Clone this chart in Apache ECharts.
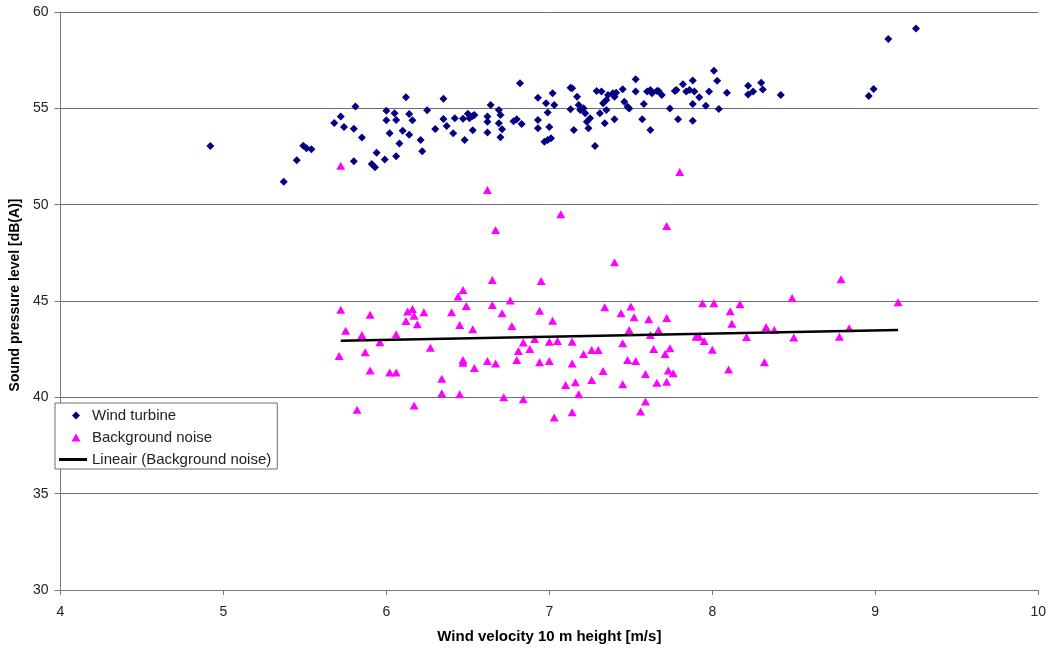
<!DOCTYPE html>
<html>
<head>
<meta charset="utf-8">
<script src="https://cdn.jsdelivr.net/npm/echarts@6/dist/echarts.min.js"></script>
<style>
html,body{margin:0;padding:0;background:#fff;}
#chart{width:1049px;height:649px;}
</style>
</head>
<body>
<div id="chart"></div>
<script>
// Wind turbine: x = wind velocity [m/s], y = sound pressure level [dB(A)]
var turbineX = [4.92,5.37,5.45,5.49,5.51,5.54,5.68,5.72,5.74,5.80,5.80,5.81,5.85,5.91,5.93,5.94,5.99,6.00,6.00,6.02,
6.05,6.06,6.08,6.06,6.10,6.12,6.14,6.14,6.16,6.21,6.22,6.25,6.30,6.35,6.35,6.37,6.41,6.42,6.47,6.48,
6.50,6.51,6.53,6.53,6.54,6.62,6.64,6.62,6.62,6.69,6.70,6.69,6.71,6.70,6.78,6.80,6.83,6.82,6.93,6.93,
6.93,6.98,6.99,7.02,7.03,7.00,6.97,6.99,7.01,7.13,7.14,7.17,7.13,7.15,7.18,7.19,7.21,7.22,7.23,7.24,
7.25,7.28,7.29,7.31,7.32,7.33,7.34,7.35,7.35,7.36,7.39,7.40,7.40,7.41,7.45,7.46,7.48,7.49,7.53,7.53,
7.57,7.58,7.62,7.60,7.62,7.63,7.66,7.67,7.69,7.74,7.77,7.78,7.79,7.82,7.84,7.86,7.88,7.88,7.88,7.89,
7.92,7.96,7.98,8.01,8.03,8.04,8.09,8.22,8.22,8.25,8.30,8.31,8.42,8.96,8.99,9.08,9.25];
var turbineY = [53.05,51.19,52.30,53.06,52.93,52.88,54.24,54.57,54.03,52.25,53.94,55.09,53.48,52.11,51.94,52.70,52.34,54.88,54.38,53.71,
54.74,54.40,53.17,52.51,53.84,55.57,54.71,53.63,54.38,53.36,52.77,54.90,53.93,55.50,54.45,54.08,53.71,54.48,54.46,53.36,
54.72,54.48,53.86,54.60,54.65,54.57,55.17,54.31,53.74,54.91,54.65,54.22,53.91,53.50,54.33,54.43,54.19,56.30,55.55,54.40,
53.96,55.26,54.79,55.78,55.17,54.03,53.27,53.36,53.45,56.07,56.04,55.60,54.95,53.88,55.17,54.91,55.00,54.74,54.31,53.96,
54.48,53.05,55.90,54.74,55.87,55.26,54.22,54.91,55.43,55.69,55.78,55.60,54.43,55.81,55.99,55.34,55.08,54.99,56.51,55.87,
54.43,55.23,53.88,55.87,55.95,55.78,55.90,55.90,55.69,54.99,55.90,55.95,54.43,56.25,55.87,55.95,56.44,55.23,54.36,55.87,
55.57,55.14,55.87,56.95,56.43,54.97,55.81,56.17,55.72,55.87,56.33,55.98,55.69,55.64,56.00,58.60,59.15];

// Background noise
var noiseX = [5.72,6.62,7.07,6.67,6.65,6.95,6.47,6.44,5.72,5.90,6.13,6.16,6.17,6.23,6.12,6.19,6.40,6.49,6.65,6.76,
6.71,6.94,7.02,6.45,6.53,6.77,5.75,5.85,6.06,5.96,5.71,5.87,6.27,6.84,6.88,6.91,7.00,7.05,7.14,6.81,
6.47,6.47,6.62,6.67,6.80,6.94,7.00,7.14,5.90,6.02,6.06,6.54,6.34,6.34,6.45,6.72,6.84,7.10,7.16,7.18,
5.82,6.17,7.03,7.14,7.80,7.72,7.40,7.34,7.44,7.50,7.52,7.61,7.72,7.49,7.62,7.67,7.45,7.64,7.71,7.74,
7.21,7.26,7.30,7.48,7.53,7.33,7.59,7.73,7.76,7.26,7.45,7.66,7.72,7.59,7.56,7.94,8.01,8.17,8.11,8.12,
8.49,7.90,7.92,7.95,8.00,8.10,8.21,8.33,8.38,8.32,8.50,8.79,9.14,8.78,8.84];
var noiseY = [52.02,50.76,49.50,48.69,46.09,46.04,45.57,45.23,44.54,44.28,44.45,44.59,44.24,44.42,43.96,43.79,44.42,44.74,44.79,45.02,
44.36,44.50,43.98,43.76,43.53,43.70,43.45,43.23,43.28,42.86,42.15,42.34,42.58,42.84,42.51,43.03,42.89,42.93,42.89,42.41,
41.94,41.80,41.88,41.76,41.94,41.82,41.88,41.76,41.39,41.29,41.29,41.52,40.97,40.21,40.16,40.00,39.90,40.64,40.78,40.16,
39.35,39.57,38.95,39.23,51.70,48.89,47.01,44.68,44.36,44.71,44.16,44.05,44.12,43.50,43.23,43.50,42.81,42.51,42.25,42.55,
42.25,42.46,42.46,41.94,41.88,41.37,41.21,41.39,41.25,40.90,40.68,40.76,40.81,39.78,39.26,44.88,44.88,44.83,44.47,43.82,
45.16,43.15,43.15,42.93,42.47,41.44,43.13,43.65,43.50,41.82,43.11,46.13,44.94,43.15,43.59];

// Linear trend line (Background noise), end points
var trendX = [5.72, 9.14];
var trendY = [42.94, 43.50];

var seriesNames = ['Wind turbine', 'Background noise', 'Lineair (Background noise)'];

function pairs(xs, ys){ var out=[]; for(var i=0;i<xs.length;i++) out.push([xs[i], ys[i]]); return out; }

var font = 'Liberation Sans, Arial, sans-serif';
var chart = echarts.init(document.getElementById('chart'), null, {renderer:'canvas'});
chart.setOption({
  animation:false,
  backgroundColor:'#fff',
  grid:{left:59, right:9, top:12, bottom:59, containLabel:false},
  xAxis:{
    type:'value', min:4, max:10, interval:1,
    name:'Wind velocity 10 m height [m/s]', nameLocation:'middle', nameGap:39,
    nameTextStyle:{fontFamily:font, fontSize:15, fontWeight:'bold', color:'#000'},
    axisLine:{show:true, onZero:false, lineStyle:{color:'#7a7a7a', width:1}},
    axisTick:{show:true, length:5, lineStyle:{color:'#7a7a7a'}},
    axisLabel:{fontFamily:font, fontSize:14, color:'#222', margin:15},
    splitLine:{show:false}
  },
  yAxis:{
    type:'value', min:30, max:60, interval:5,
    name:'Sound pressure level [dB(A)]', nameLocation:'middle', nameGap:37, nameRotate:90,
    nameTextStyle:{fontFamily:font, fontSize:14, fontWeight:'bold', color:'#000', padding:[0,0,0,12]},
    axisLine:{show:true, onZero:false, lineStyle:{color:'#7a7a7a', width:1}},
    axisTick:{show:true, length:6, lineStyle:{color:'#7a7a7a'}},
    axisLabel:{fontFamily:font, fontSize:14, color:'#222', margin:12},
    splitLine:{show:true, lineStyle:{color:'#6f6f6f', width:1}}
  },
  legend:{
    orient:'vertical', left:55, top:403,
    backgroundColor:'#fff', borderColor:'#6f6f6f', borderWidth:1,
    padding:[5,6,2,4], itemGap:7, itemWidth:28, itemHeight:8,
    textStyle:{fontFamily:font, fontSize:15, color:'#222'},
    data:[
      {name:seriesNames[0], icon:'path://M0,0 M28,8 M17,0 L21,4 L17,8 L13,4 Z', itemStyle:{color:'#000080'}},
      {name:seriesNames[1], icon:'path://M0,0 M28,8 M17,0 L21.5,8 L12.5,8 Z', itemStyle:{color:'#ff00ff'}},
      {name:seriesNames[2], icon:'path://M0,0 M28,8 M0,2.5 L28,2.5 L28,5.5 L0,5.5 Z', itemStyle:{color:'#000'}}
    ]
  },
  series:[
    {name:seriesNames[0], type:'scatter', symbol:'diamond', symbolSize:8,
     itemStyle:{color:'#000080', opacity:1}, data:pairs(turbineX, turbineY), z:3},
    {name:seriesNames[1], type:'scatter', symbol:'triangle', symbolSize:[9,8],
     itemStyle:{color:'#ff00ff', opacity:1}, data:pairs(noiseX, noiseY), z:2},
    {name:seriesNames[2], type:'line', symbol:'none', showSymbol:false,
     lineStyle:{color:'#000', width:2.5}, itemStyle:{color:'#000'},
     data:pairs(trendX, trendY), z:4}
  ]
});
</script>
</body>
</html>
